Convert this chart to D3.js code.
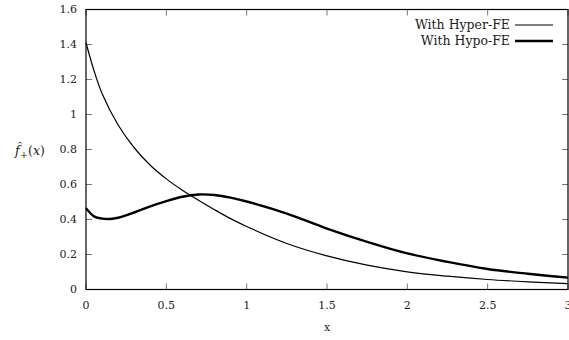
<!DOCTYPE html>
<html>
<head>
<meta charset="utf-8">
<style>
  body { margin: 0; background: #fff; }
  text { font-family: "DejaVu Serif", "Liberation Serif", serif; }
</style>
</head>
<body>
<svg width="569" height="340"></svg>
<script src="https://cdn.jsdelivr.net/npm/d3@7/dist/d3.min.js"></script>
<script>
    // values
    var xs_hyper = [0, 0.05, 0.1, 0.2, 0.3, 0.4, 0.5, 0.6, 0.7, 0.8, 0.9, 1.0,
                    1.25, 1.5, 1.75, 2.0, 2.25, 2.5, 2.75, 3.0];
    var hyper = [1.41, 1.25, 1.12, 0.94, 0.81, 0.71, 0.632, 0.567, 0.51, 0.456, 0.405, 0.36,
                 0.263, 0.192, 0.139, 0.101, 0.076, 0.057, 0.044, 0.034];

    var xs_hypo = [0, 0.05, 0.1, 0.15, 0.2, 0.3, 0.4, 0.5, 0.6, 0.7, 0.8, 0.9, 1.0,
                   1.25, 1.5, 1.75, 2.0, 2.25, 2.5, 2.75, 3.0];
    var hypo = [0.465, 0.418, 0.405, 0.403, 0.41, 0.44, 0.475, 0.505, 0.53, 0.543, 0.54, 0.525, 0.503,
                0.434, 0.348, 0.272, 0.206, 0.158, 0.117, 0.09, 0.068];

    var xTicks = [0, 0.5, 1, 1.5, 2, 2.5, 3];
    var yTicks = [0, 0.2, 0.4, 0.6, 0.8, 1, 1.2, 1.4, 1.6];
    var seriesNames = ["With Hyper-FE", "With Hypo-FE"];

    var svg = d3.select("svg"),
        margin = {top: 9.5, right: 1, bottom: 50.5, left: 86},
        width = +svg.attr("width") - margin.left - margin.right,
        height = +svg.attr("height") - margin.top - margin.bottom;

    var x = d3.scaleLinear().domain([0, 3]).range([0, width]);
    var y = d3.scaleLinear().domain([0, 1.6]).range([height, 0]);

    var g = svg.append("g")
        .attr("transform", "translate(" + margin.left + "," + margin.top + ")");

    var tickLen = 6, tickColor = "#777";

    // ticks on all four sides, pointing inward
    xTicks.forEach(function (t) {
        g.append("line").attr("x1", x(t)).attr("x2", x(t))
            .attr("y1", height).attr("y2", height - tickLen)
            .attr("stroke", tickColor);
        g.append("line").attr("x1", x(t)).attr("x2", x(t))
            .attr("y1", 0).attr("y2", tickLen)
            .attr("stroke", tickColor);
        g.append("text")
            .attr("x", x(t)).attr("y", height + 19)
            .attr("text-anchor", "middle")
            .attr("font-size", 11)
            .attr("fill", "#222")
            .text(d3.format("~g")(t));
    });

    yTicks.forEach(function (t) {
        g.append("line").attr("x1", 0).attr("x2", tickLen)
            .attr("y1", y(t)).attr("y2", y(t))
            .attr("stroke", tickColor);
        g.append("line").attr("x1", width).attr("x2", width - tickLen)
            .attr("y1", y(t)).attr("y2", y(t))
            .attr("stroke", tickColor);
        g.append("text")
            .attr("x", -9).attr("y", y(t)).attr("dy", "0.35em")
            .attr("text-anchor", "end")
            .attr("font-size", 11)
            .attr("fill", "#222")
            .text(d3.format("~g")(t));
    });

    // frame
    g.append("rect")
        .attr("x", 0).attr("y", 0)
        .attr("width", width).attr("height", height)
        .attr("fill", "none")
        .attr("stroke", "#000")
        .attr("stroke-width", 1.2);

    // axis labels
    svg.append("text")
        .attr("x", 327).attr("y", 331)
        .attr("text-anchor", "middle")
        .attr("font-size", 11)
        .attr("fill", "#222")
        .text("x");

    var ylab = svg.append("text")
        .attr("x", 15).attr("y", 155)
        .attr("font-size", 12.5)
        .attr("fill", "#222");
    ylab.append("tspan").attr("font-style", "italic").text("f\u0302");
    ylab.append("tspan").attr("font-size", 10).attr("dy", 3).text("+");
    ylab.append("tspan").attr("dy", -3).text("(");
    ylab.append("tspan").attr("font-style", "italic").text("x");
    ylab.append("tspan").text(")");

    var line = d3.line()
        .x(function (d) { return x(d[0]); })
        .y(function (d) { return y(d[1]); })
        .curve(d3.curveCatmullRom.alpha(0.5));

    g.append("path")
        .datum(d3.zip(xs_hyper, hyper))
        .attr("fill", "none")
        .attr("stroke", "#000")
        .attr("stroke-width", 1.2)
        .attr("d", line);

    g.append("path")
        .datum(d3.zip(xs_hypo, hypo))
        .attr("fill", "none")
        .attr("stroke", "#000")
        .attr("stroke-width", 2.4)
        .attr("d", line);

    // legend
    var widths = [1.2, 2.4];
    seriesNames.forEach(function (name, i) {
        var ly = 25 + i * 16;
        svg.append("text")
            .attr("x", 510).attr("y", ly).attr("dy", "0.35em")
            .attr("text-anchor", "end")
            .attr("font-size", 12.5)
            .attr("fill", "#222")
            .text(name);
        svg.append("line")
            .attr("x1", 515).attr("x2", 553)
            .attr("y1", ly).attr("y2", ly)
            .attr("stroke", "#000")
            .attr("stroke-width", widths[i]);
    });
</script>
</body>
</html>
